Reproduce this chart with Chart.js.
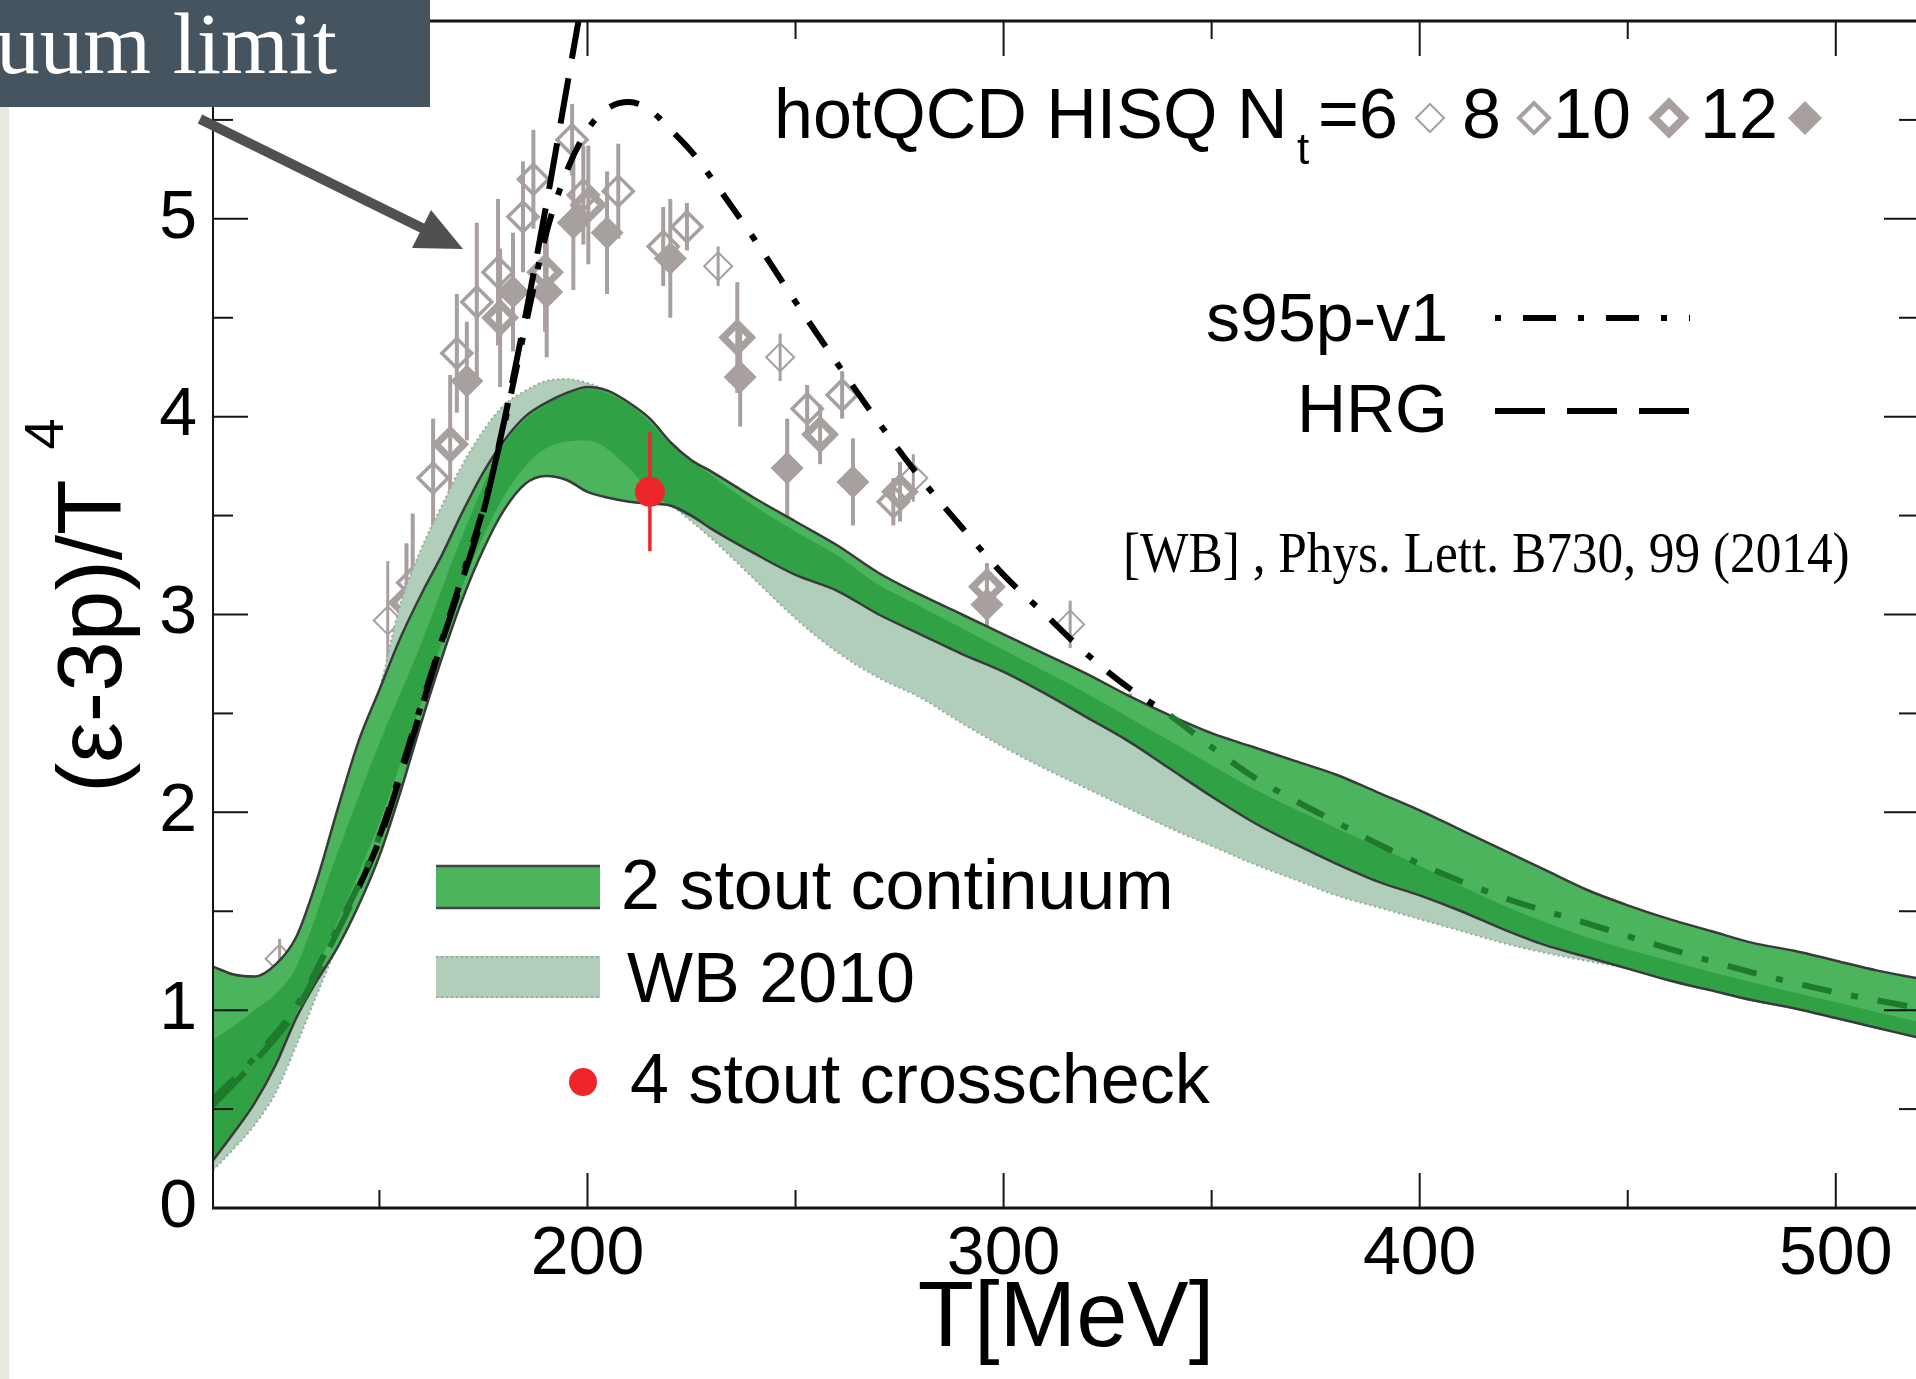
<!DOCTYPE html>
<html>
<head>
<meta charset="utf-8">
<title>(ε-3p)/T4 vs T</title>
<script src="https://cdn.jsdelivr.net/npm/chart.js@4.4.1/dist/chart.umd.min.js"></script>
<style>
html,body{margin:0;padding:0;background:#fff;width:1916px;height:1379px;overflow:hidden;}
#wrap{position:absolute;left:0;top:0;width:1960px;height:1379px;}
#strip{position:absolute;left:0;top:0;width:9px;height:1379px;background:#e9e9e4;}
#box{position:absolute;left:0;top:0;width:430px;height:107px;background:#46545f;overflow:hidden;}
#boxtext{position:absolute;right:93px;top:0;font-family:"Liberation Serif","Times New Roman",serif;font-size:87px;line-height:87px;color:#fff;white-space:nowrap;}
#arrow{position:absolute;left:0;top:0;}
</style>
</head>
<body>
<div id="wrap"><canvas id="c" width="1960" height="1379" style="width:1960px;height:1379px;"></canvas></div>
<div id="strip"></div>
<div id="box"><div id="boxtext">uum limit</div></div>
<svg id="arrow" width="520" height="300" viewBox="0 0 520 300">
  <line x1="200" y1="119" x2="424" y2="229" stroke="#505050" stroke-width="10"/>
  <polygon points="463,249 412,248 431,210" fill="#505050"/>
</svg>
<script>
// ---------------- data ----------------
const xTickLabels = [200, 300, 400, 500];
const yTickLabels = [0, 1, 2, 3, 4, 5];

// common temperature grid of the bands [MeV]
const bandT = [110,115,120,125,130,135,140,145,150,155,160,165,170,175,180,185,190,195,200,205,
               210,215,220,225,230,240,250,260,270,280,290,300,310,320,330,340,350,360,370,380,
               390,400,410,420,430,440,450,460,470,480,490,500,510,520];
// 2 stout continuum band (outer edges)
const stoutUpper = [1.22,1.18,1.17,1.23,1.37,1.66,2.02,2.36,2.62,2.88,3.10,3.30,3.52,3.72,3.88,4.00,4.07,4.12,4.15,4.13,
                    4.07,3.99,3.87,3.78,3.72,3.59,3.47,3.35,3.21,3.10,3.00,2.90,2.80,2.70,2.59,2.49,2.40,2.33,2.26,2.19,
                    2.10,2.01,1.91,1.81,1.71,1.61,1.53,1.46,1.40,1.34,1.30,1.25,1.20,1.16];
const stoutLower = [0.24,0.38,0.53,0.72,0.96,1.15,1.32,1.53,1.78,2.10,2.45,2.78,3.08,3.33,3.53,3.66,3.70,3.68,3.62,3.59,
                    3.57,3.56,3.55,3.50,3.43,3.31,3.20,3.12,3.00,2.90,2.80,2.71,2.60,2.48,2.36,2.22,2.08,1.95,1.84,1.74,
                    1.65,1.58,1.50,1.41,1.33,1.27,1.21,1.15,1.10,1.05,1.01,0.96,0.91,0.86];
// WB 2010 band
const wbUpper = [1.00,1.02,1.06,1.15,1.32,1.60,1.95,2.30,2.62,3.05,3.33,3.55,3.76,3.93,4.06,4.13,4.18,4.19,4.17,4.13,
                 4.07,3.99,3.86,3.76,3.68,3.50,3.35,3.22,3.10,3.00,2.90,2.80,2.70,2.60,2.50,2.40,2.30,2.22,2.14,2.06,
                 1.98,1.90,1.80,1.70,1.62,1.54,1.46,1.40,1.34,1.29,1.25,1.20,1.16,1.12];
const wbLower = [0.19,0.30,0.42,0.58,0.82,1.08,1.33,1.56,1.82,2.14,2.49,2.82,3.12,3.37,3.57,3.70,3.74,3.72,3.66,3.63,
                 3.61,3.59,3.55,3.47,3.38,3.18,2.98,2.81,2.68,2.58,2.45,2.33,2.22,2.12,2.02,1.92,1.83,1.74,1.66,1.58,
                 1.52,1.46,1.40,1.34,1.29,1.25,1.21,1.15,1.10,1.05,1.01,0.96,0.91,0.86];
// darker inner part of the 2 stout band
const darkT = [110,115,120,125,130,140,150,160,170,180,190,200,210,215,220,230,240,250,260,270,280,290,300,
               320,340,360,380,400,420,440,460,480,500,520];
const darkLower = [0.24,0.38,0.53,0.72,0.98,1.45,1.95,2.55,3.15,3.60,3.84,3.88,3.74,3.62,3.55,3.43,3.31,3.20,3.12,3.00,2.90,2.80,2.71,
                   2.48,2.22,1.95,1.74,1.58,1.41,1.27,1.15,1.05,0.96,0.86];
const darkUpper = [0.85,0.92,1.00,1.08,1.22,1.80,2.35,2.85,3.40,3.86,4.06,4.14,4.06,3.97,3.86,3.70,3.55,3.42,3.30,3.15,3.04,2.93,2.82,
                   2.60,2.36,2.12,1.92,1.73,1.53,1.37,1.25,1.14,1.04,0.94];
// HRG curve
const hrgT = [110,120,130,140,145,150,155,160,165,170,175,180,185,190,195,198];
const hrgV = [0.52,0.74,1.00,1.40,1.62,1.86,2.18,2.52,2.86,3.18,3.52,3.98,4.50,5.06,5.66,6.02];
// s95p-v1 curve
const s95T = [110,120,130,140,150,160,170,175,180,185,190,195,200,205,210,215,220,225,230,240,
              250,260,270,280,290,300,310,320,330,340,350,360,370,380,390,400,420,440,460,480,500,520];
const s95V = [0.55,0.76,1.02,1.42,1.88,2.54,3.20,3.54,3.96,4.45,4.92,5.24,5.45,5.56,5.59,5.55,5.45,5.34,5.20,4.90,
              4.58,4.27,3.97,3.69,3.44,3.20,3.00,2.80,2.63,2.49,2.33,2.18,2.06,1.95,1.84,1.74,1.57,1.44,1.31,1.19,1.09,1.01];
// hotQCD HISQ data (T, value, error)
const nt6T  = [126, 152, 231.4, 246.3, 278.3, 316];
const nt6V  = [1.26, 2.97, 4.76, 4.30, 3.69, 2.95];
const nt6E  = [0.10, 0.30, 0.10, 0.12, 0.12, 0.12];
const nt8T  = [158, 162.9, 168.6, 173.4, 178.5, 184.5, 187, 196.3, 199, 207.4, 218.2, 223.9, 252.8, 261.2, 273.5, 330.4];
const nt8V  = [3.16, 3.69, 4.32, 4.58, 4.73, 5.01, 5.20, 5.40, 5.12, 5.14, 4.86, 4.96, 4.04, 4.11, 3.57, 2.50];
const nt8E  = [0.35, 0.30, 0.30, 0.40, 0.37, 0.28, 0.25, 0.18, 0.25, 0.24, 0.20, 0.12, 0.12, 0.12, 0.12, 0.10];
const nt10T = [156.5, 167, 179, 189.8, 200.2, 236, 255.9, 275.1, 296];
const nt10V = [3.06, 3.86, 4.50, 4.73, 5.07, 4.40, 3.91, 3.62, 3.14];
const nt10E = [0.30, 0.35, 0.35, 0.30, 0.30, 0.28, 0.15, 0.15, 0.12];
const nt12T = [171, 182.1, 190.2, 196.6, 204.7, 219.9, 236.7, 248, 263.8, 296];
const nt12V = [4.18, 4.63, 4.63, 4.98, 4.93, 4.80, 4.20, 3.74, 3.67, 3.05];
const nt12E = [0.30, 0.30, 0.33, 0.34, 0.31, 0.30, 0.25, 0.25, 0.22, 0.12];
// 4 stout crosscheck
const crossT = [215];
const crossV = [3.62];
const crossE = [0.30];

// ---------------- styling ----------------
const GRAY = '#a89f9f', LIGHT = '#4cb45c', DARK = '#30a145', SAGE = '#b0ceb9',
      OUTLINE = '#3a3a3a', LGREEN = '#1f7a2d', RED = '#ee262c';
const FONT = '"Liberation Sans", Arial, Helvetica, sans-serif';
const SERIF = '"Liberation Serif", "Times New Roman", serif';
const toXY = (T, V) => T.map((t, i) => ({x: t, y: V[i]}));
// wanted plot-area edges on the page (px)
const AREA = {left: 213, top: 13, right: 1919, bottom: 1208};

function diamondPath(ctx, x, y, r) {
  ctx.beginPath();
  ctx.moveTo(x - r, y); ctx.lineTo(x, y - r); ctx.lineTo(x + r, y); ctx.lineTo(x, y + r); ctx.closePath();
}

function drawErr(chart, onTop) {
  const {ctx, chartArea: a, scales: {y}} = chart;
  ctx.save();
  ctx.beginPath(); ctx.rect(a.left, a.top, a.right - a.left, a.bottom - a.top); ctx.clip();
  chart.data.datasets.forEach((ds, i) => {
    if (!ds.errors || !!ds.errorsOnTop !== onTop) return;
    const meta = chart.getDatasetMeta(i);
    ctx.strokeStyle = ds.errorColor; ctx.lineWidth = ds.errorWidth; ctx.lineCap = 'butt';
    meta.data.forEach((pt, j) => {
      const v = ds.data[j].y, e = ds.errors[j];
      ctx.beginPath();
      ctx.moveTo(pt.x, y.getPixelForValue(v + e));
      ctx.lineTo(pt.x, y.getPixelForValue(v - e));
      ctx.stroke();
    });
  });
  ctx.restore();
}

const errorBars = {
  id: 'errorBars',
  beforeDatasetsDraw(chart) { drawErr(chart, false); },
  afterDatasetsDraw(chart) { drawErr(chart, true); }
};

const decorations = {
  id: 'decorations',
  afterDraw(chart) {
    const {ctx, chartArea: a, scales: {x, y}} = chart;
    const line = (x1, y1, x2, y2) => { ctx.beginPath(); ctx.moveTo(x1, y1); ctx.lineTo(x2, y2); ctx.stroke(); };
    ctx.save();
    // frame
    ctx.strokeStyle = '#151515'; ctx.lineCap = 'butt';
    ctx.lineWidth = 3;
    line(a.left - 1, a.bottom, a.right, a.bottom);
    line(a.left - 1, a.top, a.right, a.top);
    ctx.lineWidth = 2;
    line(a.left, a.top, a.left, a.bottom);
    line(a.right, a.top, a.right, a.bottom);
    // inward ticks
    x.ticks.forEach(t => {
      const v = t.value; if (v <= x.min || v >= x.max) return;
      const L = xTickLabels.includes(v) ? 35 : 18, p = x.getPixelForValue(v);
      line(p, a.bottom, p, a.bottom - L); line(p, a.top, p, a.top + L);
    });
    y.ticks.forEach(t => {
      const v = t.value; if (v <= y.min || v >= y.max) return;
      const L = yTickLabels.includes(v) ? 35 : 20, p = y.getPixelForValue(v);
      line(a.left, p, a.left + L, p); line(a.right, p, a.right - L, p);
    });

    // y axis title (ε-3p)/T^4
    ctx.fillStyle = '#000';
    ctx.save();
    ctx.translate(121, 793); ctx.rotate(-Math.PI / 2);
    ctx.font = '91px ' + FONT; ctx.textAlign = 'left'; ctx.textBaseline = 'alphabetic';
    const main = '(ε-3p)/T';
    ctx.fillText(main, 0, 0);
    const w = ctx.measureText(main).width;
    ctx.font = '56px ' + FONT;
    ctx.fillText('4', w + 30, -58);
    ctx.restore();

    // top legend: hotQCD HISQ
    ctx.textAlign = 'left'; ctx.textBaseline = 'alphabetic';
    ctx.font = '70px ' + FONT;
    ctx.fillText('hotQCD HISQ N', 774, 138);
    ctx.font = '44px ' + FONT;
    ctx.fillText('t', 1297, 164);
    ctx.font = '70px ' + FONT;
    ctx.fillText('=6', 1318, 138);
    ctx.fillText('8', 1462, 138);
    ctx.fillText('10', 1553, 138);
    ctx.fillText('12', 1700, 138);
    ctx.strokeStyle = GRAY; ctx.fillStyle = GRAY;
    diamondPath(ctx, 1430, 118, 14); ctx.lineWidth = 2; ctx.stroke();
    diamondPath(ctx, 1534, 118, 15); ctx.lineWidth = 4; ctx.stroke();
    diamondPath(ctx, 1669, 118, 15); ctx.lineWidth = 8; ctx.stroke();
    diamondPath(ctx, 1805, 118, 17); ctx.fill();

    // line legend
    ctx.fillStyle = '#000';
    ctx.font = '68px ' + FONT; ctx.textAlign = 'right';
    ctx.fillText('s95p-v1', 1448, 341);
    ctx.fillText('HRG', 1448, 432);
    ctx.strokeStyle = '#000'; ctx.lineWidth = 6;
    ctx.setLineDash([6, 22, 33, 22]); line(1495, 318, 1690, 318);
    ctx.setLineDash([50, 22]); line(1495, 411, 1690, 411);
    ctx.setLineDash([]);

    // citation
    ctx.save();
    ctx.translate(1123, 572); ctx.scale(0.9, 1);
    ctx.font = '57px ' + SERIF; ctx.textAlign = 'left';
    ctx.fillText('[WB] , Phys. Lett. B730, 99 (2014)', 0, 0);
    ctx.restore();

    // band legend
    ctx.fillStyle = LIGHT; ctx.fillRect(436, 865, 164, 44);
    ctx.strokeStyle = '#444'; ctx.lineWidth = 2.5;
    line(436, 866, 600, 866); line(436, 908, 600, 908);
    ctx.fillStyle = SAGE; ctx.fillRect(436, 956, 164, 42);
    ctx.strokeStyle = '#9aa89e'; ctx.lineWidth = 2; ctx.setLineDash([2, 3]);
    line(436, 957, 600, 957); line(436, 997, 600, 997);
    ctx.setLineDash([]);
    ctx.fillStyle = RED; ctx.beginPath(); ctx.arc(583, 1082, 14, 0, Math.PI * 2); ctx.fill();
    ctx.fillStyle = '#000'; ctx.font = '70px ' + FONT; ctx.textAlign = 'left';
    ctx.fillText('2 stout continuum', 621, 909);
    ctx.fillText('WB 2010', 627, 1002);
    ctx.fillText('4 stout crosscheck', 630, 1103);
    ctx.restore();
  }
};

const bandLine = {pointRadius: 0, cubicInterpolationMode: 'monotone', showLine: true};

const datasets = [
  // hotQCD HISQ points (behind the bands)
  {label: 'N_t=12', data: toXY(nt12T, nt12V), errors: nt12E, errorColor: GRAY, errorWidth: 4,
   showLine: false, pointStyle: 'rectRot', pointRadius: 16, pointBorderWidth: 1,
   pointBorderColor: GRAY, pointBackgroundColor: GRAY, order: 100},
  {label: 'N_t=10', data: toXY(nt10T, nt10V), errors: nt10E, errorColor: GRAY, errorWidth: 4,
   showLine: false, pointStyle: 'rectRot', pointRadius: 14, pointBorderWidth: 7,
   pointBorderColor: GRAY, pointBackgroundColor: 'rgba(0,0,0,0)', order: 99},
  {label: 'N_t=8', data: toXY(nt8T, nt8V), errors: nt8E, errorColor: GRAY, errorWidth: 4,
   showLine: false, pointStyle: 'rectRot', pointRadius: 15, pointBorderWidth: 3.5,
   pointBorderColor: GRAY, pointBackgroundColor: 'rgba(0,0,0,0)', order: 98},
  {label: 'N_t=6', data: toXY(nt6T, nt6V), errors: nt6E, errorColor: GRAY, errorWidth: 3,
   showLine: false, pointStyle: 'rectRot', pointRadius: 14, pointBorderWidth: 2,
   pointBorderColor: GRAY, pointBackgroundColor: 'rgba(0,0,0,0)', order: 97},
  // WB 2010 band
  Object.assign({label: 'WB 2010', data: toXY(bandT, wbUpper), fill: '+1', backgroundColor: SAGE,
   borderColor: '#9aa89e', borderWidth: 2, borderDash: [2, 3], order: 90}, bandLine),
  Object.assign({label: 'WB 2010 lower', data: toXY(bandT, wbLower), fill: false,
   borderColor: '#9aa89e', borderWidth: 2, borderDash: [2, 3], order: 89}, bandLine),
  // 2 stout continuum band fill
  Object.assign({label: '2 stout continuum', data: toXY(bandT, stoutUpper), fill: '+1', backgroundColor: LIGHT,
   borderWidth: 0, borderColor: 'rgba(0,0,0,0)', order: 80}, bandLine),
  Object.assign({label: '2 stout lower', data: toXY(bandT, stoutLower), fill: false,
   borderWidth: 0, borderColor: 'rgba(0,0,0,0)', order: 79}, bandLine),
  // darker inner part
  Object.assign({label: '2 stout inner', data: toXY(darkT, darkUpper), fill: '+1', backgroundColor: DARK,
   borderWidth: 0, borderColor: 'rgba(0,0,0,0)', order: 70}, bandLine),
  Object.assign({label: '2 stout inner lower', data: toXY(darkT, darkLower), fill: false,
   borderWidth: 0, borderColor: 'rgba(0,0,0,0)', order: 69}, bandLine),
  // band outlines
  Object.assign({label: '2 stout upper edge', data: toXY(bandT, stoutUpper), fill: false,
   borderWidth: 2.5, borderColor: OUTLINE, order: 60}, bandLine),
  Object.assign({label: '2 stout lower edge', data: toXY(bandT, stoutLower), fill: false,
   borderWidth: 2.5, borderColor: OUTLINE, order: 59}, bandLine),
  // HRG and s95p-v1
  Object.assign({label: 'HRG', data: toXY(hrgT, hrgV), fill: false, borderWidth: 6, borderColor: '#000',
   borderDash: [46, 20], borderCapStyle: 'butt', order: 50,
   segment: {borderColor: c => c.p0.parsed.x < 142 ? LGREEN : '#000'}}, bandLine),
  Object.assign({label: 's95p-v1', data: toXY(s95T, s95V), fill: false, borderWidth: 6, borderColor: '#000',
   borderDash: [30, 20, 7, 20], borderCapStyle: 'butt', order: 49,
   segment: {borderColor: c => (c.p0.parsed.x < 142 || c.p0.parsed.x >= 335) ? LGREEN : '#000'}}, bandLine),
  // 4 stout crosscheck
  {label: '4 stout crosscheck', data: toXY(crossT, crossV), errors: crossE, errorsOnTop: true,
   errorColor: RED, errorWidth: 3.5, showLine: false, pointStyle: 'circle', pointRadius: 15,
   pointBorderWidth: 0, pointBackgroundColor: RED, pointBorderColor: RED, order: 10}
];

Chart.defaults.font.family = FONT;
Chart.defaults.color = '#000';

const layoutPad = {left: 0, right: 1960 - AREA.right, top: AREA.top, bottom: 0};

const chart = new Chart(document.getElementById('c'), {
  type: 'line',
  data: {datasets},
  options: {
    responsive: false,
    animation: false,
    devicePixelRatio: 1,
    events: [],
    layout: {padding: layoutPad},
    plugins: {legend: {display: false}, tooltip: {enabled: false}},
    scales: {
      x: {
        type: 'linear', min: 110, max: 520,
        grid: {display: false, drawTicks: false}, border: {display: false},
        ticks: {stepSize: 50, includeBounds: false, autoSkip: false, maxRotation: 0, padding: 6,
                font: {size: 68}, color: '#000',
                callback: v => xTickLabels.includes(v) ? String(v) : ''},
        title: {display: true, text: 'T[MeV]', color: '#000',
                font: {size: 92, lineHeight: 1}, padding: {top: 0, bottom: 12}},
        afterFit: s => { s.height = 1379 - AREA.bottom; s.paddingLeft = 0; s.paddingRight = 0; }
      },
      y: {
        type: 'linear', min: 0, max: 6,
        grid: {display: false, drawTicks: false}, border: {display: false},
        ticks: {stepSize: 0.5, autoSkip: false, padding: 16,
                font: {size: 68}, color: '#000',
                callback: v => yTickLabels.includes(v) ? String(v) : ''},
        afterFit: s => { s.width = AREA.left; s.paddingTop = 0; s.paddingBottom = 0; }
      }
    }
  },
  plugins: [errorBars, decorations]
});

// nudge the layout padding so the plot area lands exactly on the wanted edges
for (let k = 0; k < 2; k++) {
  const a = chart.chartArea;
  const dR = a.right - AREA.right, dT = a.top - AREA.top, dB = a.bottom - AREA.bottom;
  if (Math.abs(dR) < 0.5 && Math.abs(dT) < 0.5 && Math.abs(dB) < 0.5) break;
  layoutPad.right = Math.max(0, layoutPad.right + dR);
  layoutPad.top = Math.max(0, layoutPad.top - dT);
  layoutPad.bottom = Math.max(0, layoutPad.bottom + dB);
  chart.update();
}
</script>
</body>
</html>
